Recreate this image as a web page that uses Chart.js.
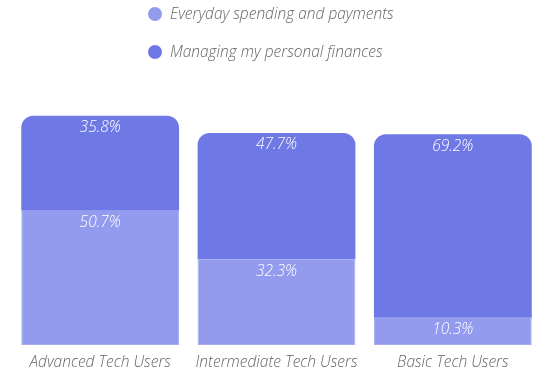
<!DOCTYPE html>
<html>
<head>
<meta charset="utf-8">
<script src="https://cdn.jsdelivr.net/npm/chart.js@4.4.0/dist/chart.umd.min.js"></script>
<style>
  html, body { margin: 0; padding: 0; background: #ffffff; }
  #wrap { width: 550px; height: 373px; }
</style>
</head>
<body>
<div id="wrap"><canvas id="c" width="550" height="373"></canvas></div>
<script>
const categories = ["Advanced Tech Users", "Intermediate Tech Users", "Basic Tech Users"];
const seriesNames = ["Everyday spending and payments", "Managing my personal finances"];
const everydaySpending = [50.7, 32.3, 10.3];
const managingFinances = [35.8, 47.7, 69.2];
const seriesColors = ["#939bee", "#6f79e6"];

const FONT = "'Open Sans', 'DejaVu Sans', sans-serif";
const TEXT_GREY = "#666666";

const legendPlugin = {
  id: "stackedLegend",
  afterDraw(chart) {
    const ctx = chart.ctx;
    ctx.save();
    ctx.font = "italic 300 15.5px " + FONT;
    ctx.textBaseline = "middle";
    ctx.textAlign = "left";
    const ys = [14, 52];
    chart.data.datasets.forEach((ds, i) => {
      ctx.fillStyle = ds.backgroundColor;
      ctx.beginPath();
      ctx.arc(155, ys[i], 7, 0, Math.PI * 2);
      ctx.fill();
      ctx.fillStyle = TEXT_GREY;
      ctx.fillText(ds.label, 170, ys[i] + 1);
    });
    ctx.restore();
  }
};

const valueLabelPlugin = {
  id: "valueLabels",
  afterDatasetsDraw(chart) {
    const ctx = chart.ctx;
    ctx.save();
    ctx.font = "italic 300 15.5px " + FONT;
    ctx.fillStyle = "#ffffff";
    ctx.textAlign = "center";
    ctx.textBaseline = "middle";
    chart.data.datasets.forEach((ds, di) => {
      const meta = chart.getDatasetMeta(di);
      meta.data.forEach((bar, i) => {
        const v = ds.data[i];
        ctx.fillText(v.toFixed(1) + "%", bar.x, bar.y + 12);
      });
    });
    ctx.restore();
  }
};

new Chart(document.getElementById("c"), {
  type: "bar",
  data: {
    labels: categories,
    datasets: [
      {
        label: seriesNames[0],
        data: everydaySpending,
        backgroundColor: seriesColors[0],
        borderColor: "#a7adf1",
        borderWidth: 1,
        borderSkipped: "top",
        borderRadius: 0
      },
      {
        label: seriesNames[1],
        data: managingFinances,
        backgroundColor: seriesColors[1],
        borderColor: "#8189ea",
        borderWidth: 0,
        borderRadius: { topLeft: 12, topRight: 12, bottomLeft: 0, bottomRight: 0 },
        borderSkipped: "bottom"
      }
    ]
  },
  options: {
    responsive: false,
    animation: false,
    devicePixelRatio: 1,
    layout: { padding: { top: 80, left: 12, right: 9, bottom: 0 } },
    plugins: {
      legend: { display: false },
      tooltip: { enabled: false }
    },
    datasets: {
      bar: { categoryPercentage: 1.0, barPercentage: 0.895 }
    },
    scales: {
      x: {
        stacked: true,
        grid: { display: false },
        border: { display: false },
        afterFit(scale) { scale.height = 28; },
        ticks: {
          color: TEXT_GREY,
          font: { family: FONT, size: 15.5, style: "italic", weight: 300 },
          padding: 0,
          maxRotation: 0
        }
      },
      y: {
        stacked: true,
        display: false,
        min: 0,
        max: 100
      }
    }
  },
  plugins: [legendPlugin, valueLabelPlugin]
});
</script>
</body>
</html>
